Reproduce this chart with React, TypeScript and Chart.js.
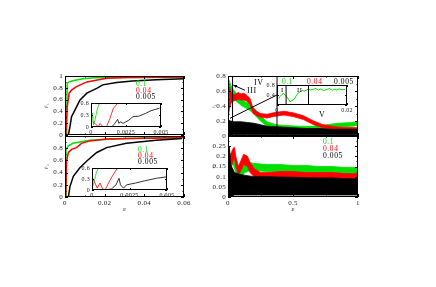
import React, { useEffect, useRef } from 'react';
import { Chart, registerables } from 'chart.js';

Chart.register(...registerables);

const W = 436;
const H = 287;
const GREEN = '#00e000';
const RED = '#ff0000';
const BLACK = '#000000';
const SERIF = '"Liberation Serif", "DejaVu Serif", serif';

// ---------- top-left panel ----------
const tlGreenX = [0.0008, 0.0011, 0.002, 0.004, 0.009, 0.015, 0.03, 0.06];
const tlGreenY = [0, 0.88, 0.9, 0.92, 0.955, 0.97, 0.975, 0.98];
const tlRedX = [0.0004, 0.001, 0.0021, 0.0033, 0.0058, 0.011, 0.021, 0.031, 0.06];
const tlRedY = [0, 0.45, 0.71, 0.76, 0.82, 0.9, 0.96, 0.975, 0.985];
const tlBlackX = [0.0017, 0.0025, 0.0033, 0.005, 0.0075, 0.011, 0.016, 0.019, 0.026, 0.034, 0.046, 0.06];
const tlBlackY = [0, 0.14, 0.31, 0.42, 0.59, 0.71, 0.79, 0.85, 0.89, 0.915, 0.935, 0.955];

// top-left inset
const tlInGreenX = [0.00005, 0.0001, 0.00018, 0.0003, 0.00045, 0.0006];
const tlInGreenY = [0.15, 0.35, 0.05, 0.2, 0.45, 0.6];
const tlInRedX = [0.00012, 0.00029, 0.00052, 0.00064, 0.00088, 0.0011, 0.00136, 0.0016, 0.0018, 0.0019];
const tlInRedY = [0.13, 0.09, 0.0, 0.09, 0.0, 0.0, 0.22, 0.47, 0.55, 0.6];
const tlInBlackX = [0.00107, 0.00148, 0.0017, 0.0019, 0.002, 0.0021, 0.0023, 0.0027, 0.003, 0.0034, 0.0039, 0.0043, 0.0049];
const tlInBlackY = [0, 0, 0.09, 0.19, 0.09, 0.13, 0.09, 0.17, 0.26, 0.27, 0.34, 0.41, 0.47];

// ---------- bottom-left panel ----------
const blGreenX = [0.0003, 0.0005, 0.0017, 0.004, 0.0125, 0.03, 0.06];
const blGreenY = [0, 0.78, 0.84, 0.88, 0.93, 0.96, 0.975];
const blRedX = [0.00035, 0.0008, 0.0017, 0.0033, 0.0058, 0.0083, 0.0125, 0.021, 0.04, 0.06];
const blRedY = [0, 0.59, 0.73, 0.78, 0.81, 0.88, 0.92, 0.95, 0.965, 0.97];
const blBlackX = [0.0017, 0.0025, 0.0042, 0.0075, 0.011, 0.016, 0.021, 0.031, 0.046, 0.059];
const blBlackY = [0, 0.17, 0.34, 0.48, 0.59, 0.73, 0.81, 0.88, 0.93, 0.96];

// bottom-left inset
const blInGreenX = [0.00005, 0.0002, 0.0003, 0.00042];
const blInGreenY = [0.09, 0.32, 0.5, 0.6];
const blInRedX = [0.00005, 0.0002, 0.00035, 0.00053, 0.00071, 0.00087, 0.0011, 0.0014, 0.0017];
const blInRedY = [0.32, 0.19, 0.05, 0.19, 0.03, 0, 0.19, 0.41, 0.6];
const blInBlackX = [0.00087, 0.0013, 0.0016, 0.0018, 0.0019, 0.0021, 0.0023, 0.0029, 0.0035, 0.0043, 0.005];
const blInBlackY = [0, 0.03, 0.14, 0.32, 0.14, 0.05, 0.14, 0.19, 0.25, 0.32, 0.36];

// ---------- top-right panel (noisy bands: upper / lower envelopes) ----------
const trGreenX = [0, 0.01, 0.02, 0.04, 0.06, 0.08, 0.1, 0.12, 0.14, 0.17, 0.2, 0.25, 0.3, 0.37, 0.45, 0.55, 0.65, 0.75, 0.85, 0.95, 1.0];
const trGreenHi = [0.7, 0.74, 0.68, 0.62, 0.58, 0.54, 0.5, 0.47, 0.45, 0.42, 0.37, 0.27, 0.19, 0.15, 0.14, 0.13, 0.13, 0.15, 0.17, 0.18, 0.19];
const trGreenLo = [0.5, 0.58, 0.55, 0.5, 0.47, 0.44, 0.41, 0.39, 0.37, 0.34, 0.29, 0.2, 0.13, 0.1, 0.09, 0.08, 0.08, 0.1, 0.12, 0.13, 0.14];
const trRedX = [0, 0.01, 0.02, 0.03, 0.05, 0.08, 0.1, 0.12, 0.14, 0.17, 0.19, 0.22, 0.25, 0.3, 0.35, 0.43, 0.5, 0.58, 0.66, 0.73, 0.84, 1.0];
const trRedHi = [0.4, 0.66, 0.6, 0.56, 0.55, 0.58, 0.56, 0.57, 0.55, 0.5, 0.38, 0.33, 0.3, 0.29, 0.31, 0.33, 0.31, 0.27, 0.2, 0.15, 0.12, 0.11];
const trRedLo = [0.25, 0.35, 0.42, 0.46, 0.47, 0.49, 0.48, 0.48, 0.47, 0.42, 0.31, 0.27, 0.25, 0.24, 0.26, 0.28, 0.26, 0.22, 0.15, 0.11, 0.08, 0.08];
const trBlackX = [0, 0.02, 0.05, 0.1, 0.15, 0.2, 0.25, 0.3, 0.4, 0.5, 0.6, 0.7, 0.8, 0.9, 1.0];
const trBlackHi = [0.22, 0.2, 0.19, 0.19, 0.18, 0.17, 0.15, 0.13, 0.12, 0.11, 0.1, 0.1, 0.09, 0.09, 0.09];
const trBlackLo = [0.0, 0.01, 0.02, 0.02, 0.02, 0.02, 0.02, 0.02, 0.02, 0.02, 0.02, 0.02, 0.02, 0.02, 0.02];
// region markers in top-right panel
const trVLines = [0.035, 0.377];
const trDiagX = [0.015, 0.38];
const trDiagY = [0.236, 0.55];
const trArrowFrom = [0.13, 0.61];
const trArrowTo = [0.04, 0.68];

// top-right inset
const trInGreenX = [0.0005, 0.0009, 0.0014, 0.0018, 0.0023, 0.0028, 0.0033, 0.0037, 0.0042, 0.0047, 0.0052, 0.0056, 0.006, 0.0066, 0.0072, 0.0078, 0.0085, 0.009, 0.0095, 0.0104, 0.011, 0.0118, 0.0125, 0.0132, 0.0142, 0.015, 0.0158, 0.0165, 0.017, 0.0178, 0.0186, 0.0194];
const trInGreenY = [0.25, 0.35, 0.42, 0.47, 0.4, 0.33, 0.22, 0.13, 0.18, 0.2, 0.3, 0.4, 0.47, 0.53, 0.58, 0.56, 0.6, 0.64, 0.6, 0.63, 0.66, 0.6, 0.64, 0.58, 0.62, 0.66, 0.59, 0.63, 0.6, 0.64, 0.61, 0.62];
const trInVLines = [0.0026, 0.009];

// ---------- bottom-right panel ----------
const brGreenX = [0, 0.01, 0.02, 0.04, 0.06, 0.08, 0.1, 0.13, 0.17, 0.2, 0.3, 0.4, 0.5, 0.6, 0.7, 0.8, 0.9, 1.0];
const brGreenHi = [0.25, 0.22, 0.21, 0.22, 0.18, 0.14, 0.15, 0.16, 0.17, 0.165, 0.16, 0.16, 0.155, 0.155, 0.15, 0.15, 0.145, 0.145];
const brGreenLo = [0.14, 0.15, 0.15, 0.16, 0.12, 0.09, 0.1, 0.12, 0.13, 0.13, 0.125, 0.125, 0.12, 0.12, 0.12, 0.115, 0.115, 0.115];
const brRedX = [0, 0.02, 0.04, 0.05, 0.06, 0.08, 0.1, 0.12, 0.15, 0.17, 0.2, 0.25, 0.3, 0.4, 0.5, 0.6, 0.7, 0.8, 0.9, 1.0];
const brRedHi = [0.18, 0.21, 0.24, 0.245, 0.2, 0.15, 0.18, 0.21, 0.2, 0.17, 0.14, 0.12, 0.12, 0.125, 0.125, 0.12, 0.12, 0.12, 0.115, 0.115];
const brRedLo = [0.1, 0.14, 0.18, 0.19, 0.15, 0.11, 0.13, 0.16, 0.15, 0.12, 0.1, 0.08, 0.08, 0.085, 0.09, 0.085, 0.085, 0.085, 0.08, 0.08];
const brBlackX = [0, 0.01, 0.02, 0.05, 0.1, 0.2, 0.3, 0.4, 0.5, 0.6, 0.7, 0.8, 0.9, 1.0];
const brBlackHi = [0.15, 0.25, 0.16, 0.12, 0.11, 0.1, 0.1, 0.098, 0.097, 0.095, 0.094, 0.094, 0.09, 0.09];
const brBlackLo = [0.0, 0.0, 0.0, 0.01, 0.01, 0.01, 0.01, 0.01, 0.01, 0.01, 0.01, 0.01, 0.01, 0.01];

// legends
const seriesLabels = ['0.1', '0.04', '0.005'];
const seriesColors = [GREEN, RED, BLACK];

const zip = (xs: number[], ys: number[]) => xs.map((x, i) => ({ x, y: ys[i] }));
const fmt = (v: number) => String(Math.round(v * 1e6) / 1e6);

const line = (xs: number[], ys: number[], color: string, width: number, order: number) => ({
  data: zip(xs, ys),
  borderColor: color,
  borderWidth: width,
  pointRadius: 0,
  fill: false,
  order,
});

const band = (xs: number[], hi: number[], lo: number[], color: string, order: number) => [
  { data: zip(xs, hi), borderColor: color, backgroundColor: color, borderWidth: 0.8, pointRadius: 0, fill: '+1', order },
  { data: zip(xs, lo), borderColor: color, backgroundColor: color, borderWidth: 0.8, pointRadius: 0, fill: false, order: order + 0.5 },
];

const vline = (x: number, y0: number, y1: number, order: number) => ({
  data: [{ x, y: y0 }, { x, y: y1 }],
  borderColor: BLACK,
  borderWidth: 1,
  pointRadius: 0,
  fill: false,
  order,
});

const framePlugin = {
  id: 'frame',
  beforeDraw(chart: any, _a: any, o: any) {
    chart.ctx.letterSpacing = o.ls || '0px';
  },
  beforeDatasetsDraw(chart: any, _a: any, o: any) {
    if (!o.white) return;
    const a = chart.chartArea;
    const ctx = chart.ctx;
    ctx.save();
    ctx.fillStyle = '#ffffff';
    ctx.fillRect(a.left, a.top, a.right - a.left, a.bottom - a.top);
    ctx.restore();
  },
  afterDatasetsDraw(chart: any, _a: any, o: any) {
    const a = chart.chartArea;
    const ctx = chart.ctx;
    const xs = chart.scales.x;
    const ys = chart.scales.y;
    const L = o.tick || 3;
    ctx.save();
    ctx.strokeStyle = '#000';
    ctx.lineWidth = 1;
    ctx.beginPath();
    const drawX = (v: number, len: number) => {
      const p = Math.round(xs.getPixelForValue(v)) + 0.5;
      ctx.moveTo(p, a.bottom);
      ctx.lineTo(p, a.bottom - len);
      ctx.moveTo(p, a.top);
      ctx.lineTo(p, a.top + len);
    };
    const drawY = (v: number, len: number) => {
      const p = Math.round(ys.getPixelForValue(v)) + 0.5;
      ctx.moveTo(a.left, p);
      ctx.lineTo(a.left + len, p);
      ctx.moveTo(a.right, p);
      ctx.lineTo(a.right - len, p);
    };
    const xt = xs.ticks.map((t: any) => t.value);
    const yt = ys.ticks.map((t: any) => t.value);
    xt.forEach((v: number, i: number) => {
      drawX(v, L);
      if (i < xt.length - 1) drawX((v + xt[i + 1]) / 2, L / 2);
    });
    yt.forEach((v: number, i: number) => {
      drawY(v, L);
      if (i < yt.length - 1) drawY((v + yt[i + 1]) / 2, L / 2);
    });
    ctx.stroke();
    ctx.strokeRect(Math.round(a.left) + 0.5, Math.round(a.top) + 0.5, Math.round(a.right - a.left) - 1, Math.round(a.bottom - a.top) - 1);
    if (o.arrow) {
      const x0 = xs.getPixelForValue(o.arrow.from[0]);
      const y0 = ys.getPixelForValue(o.arrow.from[1]);
      const x1 = xs.getPixelForValue(o.arrow.to[0]);
      const y1 = ys.getPixelForValue(o.arrow.to[1]);
      const ang = Math.atan2(y1 - y0, x1 - x0);
      ctx.beginPath();
      ctx.moveTo(x0, y0);
      ctx.lineTo(x1, y1);
      ctx.stroke();
      ctx.beginPath();
      ctx.fillStyle = '#000';
      ctx.moveTo(x1, y1);
      ctx.lineTo(x1 - 4 * Math.cos(ang - 0.4), y1 - 4 * Math.sin(ang - 0.4));
      ctx.lineTo(x1 - 4 * Math.cos(ang + 0.4), y1 - 4 * Math.sin(ang + 0.4));
      ctx.closePath();
      ctx.fill();
    }
    ctx.restore();
  },
};

type PanelSpec = {
  L: number; R: number; T: number; B: number;
  yW: number; xH: number;
  xMin: number; xMax: number; xStep: number;
  yMin: number; yMax: number; yStep: number;
  xLabels: boolean; yHide?: number[];
  fs: number; xTitle?: string; yTitle?: string;
  white?: boolean; tick?: number; arrow?: any;
  datasets: any[];
};

function makeConfig(p: PanelSpec) {
  const zeroPad = (s: any) => {
    s.paddingLeft = 0; s.paddingRight = 0; s.paddingTop = 0; s.paddingBottom = 0;
  };
  return {
    type: 'line',
    data: { datasets: p.datasets },
    options: {
      animation: false,
      responsive: false,
      events: [],
      layout: { padding: { left: p.L - p.yW, right: W - p.R, top: p.T, bottom: H - p.B - p.xH } },
      plugins: {
        legend: { display: false },
        tooltip: { enabled: false },
        frame: { white: !!p.white, tick: p.tick || 3, arrow: p.arrow, ls: '0.3px' },
      },
      scales: {
        x: {
          type: 'linear',
          min: p.xMin, max: p.xMax,
          ticks: {
            stepSize: p.xStep, display: p.xLabels, autoSkip: false, maxRotation: 0, minRotation: 0,
            padding: 2, color: '#222', font: { family: SERIF, size: p.fs }, callback: (v: number) => fmt(v),
          },
          grid: { display: false, drawTicks: false },
          border: { display: false },
          title: p.xTitle
            ? { display: true, text: p.xTitle, color: '#222', font: { family: SERIF, size: 7 }, padding: 0 }
            : { display: false },
          afterFit: (s: any) => { s.height = p.xH; zeroPad(s); },
        },
        y: {
          type: 'linear',
          min: p.yMin, max: p.yMax,
          ticks: {
            stepSize: p.yStep, autoSkip: false, padding: 2, color: '#222',
            font: { family: SERIF, size: p.fs },
            callback: (v: number) => ((p.yHide || []).some((h) => Math.abs(h - v) < 1e-9) ? '' : fmt(v)),
          },
          grid: { display: false, drawTicks: false },
          border: { display: false },
          title: p.yTitle
            ? { display: true, text: p.yTitle, color: '#444', font: { family: SERIF, size: 5 }, padding: { top: 3, bottom: 0 } }
            : { display: false },
          afterFit: (s: any) => { s.width = p.yW; zeroPad(s); },
        },
      },
    },
    plugins: [framePlugin],
  };
}

const panels: PanelSpec[] = [
  // top-left
  {
    L: 65, R: 184, T: 76, B: 135, yW: 24, xH: 0,
    xMin: 0, xMax: 0.06, xStep: 0.02, yMin: 0, yMax: 1, yStep: 0.2,
    xLabels: false, fs: 7, yTitle: 'F\u0304\u2081',
    datasets: [
      line(tlBlackX, tlBlackY, BLACK, 1.5, 1),
      line(tlRedX, tlRedY, RED, 1.5, 2),
      line(tlGreenX, tlGreenY, GREEN, 1.5, 3),
    ],
  },
  // bottom-left
  {
    L: 65, R: 184, T: 136, B: 197, yW: 24, xH: 16,
    xMin: 0, xMax: 0.06, xStep: 0.02, yMin: 0, yMax: 1, yStep: 0.2,
    xLabels: true, yHide: [1], fs: 7, xTitle: '\u03b5', yTitle: 'F\u0304\u2082',
    datasets: [
      line(blBlackX, blBlackY, BLACK, 1.5, 1),
      line(blRedX, blRedY, RED, 1.5, 2),
      line(blGreenX, blGreenY, GREEN, 1.5, 3),
    ],
  },
  // top-right
  {
    L: 228, R: 358, T: 76, B: 136, yW: 20, xH: 0,
    xMin: 0, xMax: 1, xStep: 0.5, yMin: 0, yMax: 0.8, yStep: 0.2,
    xLabels: false, fs: 7, yTitle: 'r\u0304\u2081',
    arrow: { from: trArrowFrom, to: trArrowTo },
    datasets: [
      vline(trVLines[0], 0, 0.8, 0),
      vline(trVLines[1], 0, 0.8, 0),
      line(trDiagX, trDiagY, BLACK, 1, 0),
      ...band(trBlackX, trBlackHi, trBlackLo, BLACK, 1),
      ...band(trRedX, trRedHi, trRedLo, RED, 2),
      ...band(trGreenX, trGreenHi, trGreenLo, GREEN, 3),
    ],
  },
  // bottom-right
  {
    L: 228, R: 358, T: 136, B: 197, yW: 20, xH: 16,
    xMin: 0, xMax: 1, xStep: 0.5, yMin: 0, yMax: 0.3, yStep: 0.05,
    xLabels: true, yHide: [0.3], fs: 7, xTitle: '\u03b5', yTitle: 'r\u0304\u2082',
    datasets: [
      ...band(brBlackX, brBlackHi, brBlackLo, BLACK, 1),
      ...band(brRedX, brRedHi, brRedLo, RED, 2),
      ...band(brGreenX, brGreenHi, brGreenLo, GREEN, 3),
    ],
  },
  // top-left inset
  {
    L: 91, R: 161, T: 103, B: 127, yW: 14, xH: 9,
    xMin: 0, xMax: 0.005, xStep: 0.0025, yMin: 0, yMax: 0.6, yStep: 0.3,
    xLabels: true, fs: 6, white: true, tick: 2,
    datasets: [
      line(tlInBlackX, tlInBlackY, BLACK, 0.8, 1),
      line(tlInRedX, tlInRedY, RED, 0.8, 2),
      line(tlInGreenX, tlInGreenY, GREEN, 0.8, 3),
    ],
  },
  // bottom-left inset
  {
    L: 92, R: 167, T: 168, B: 190, yW: 14, xH: 9,
    xMin: 0, xMax: 0.005, xStep: 0.0025, yMin: 0, yMax: 0.6, yStep: 0.3,
    xLabels: true, fs: 6, white: true, tick: 2,
    datasets: [
      line(blInBlackX, blInBlackY, BLACK, 0.8, 1),
      line(blInRedX, blInRedY, RED, 0.8, 2),
      line(blInGreenX, blInGreenY, GREEN, 0.8, 3),
    ],
  },
  // top-right inset
  {
    L: 277, R: 347, T: 85, B: 105, yW: 14, xH: 9,
    xMin: 0, xMax: 0.02, xStep: 0.02, yMin: 0, yMax: 0.8, yStep: 0.4,
    xLabels: true, yHide: [0], fs: 6, white: true, tick: 2,
    datasets: [
      vline(trInVLines[0], 0, 0.8, 0),
      vline(trInVLines[1], 0, 0.8, 0),
      line(trInGreenX, trInGreenY, GREEN, 1, 1),
    ],
  },
];

function ChartCanvas({ spec }: { spec: PanelSpec }) {
  const ref = useRef<HTMLCanvasElement | null>(null);
  useEffect(() => {
    const chart = new Chart(ref.current as HTMLCanvasElement, makeConfig(spec) as any);
    return () => chart.destroy();
  }, []);
  return (
    <canvas
      ref={ref}
      width={W}
      height={H}
      style={{ position: 'absolute', left: 0, top: 0, width: W, height: H }}
    />
  );
}

type TextSpec = { text: string; x: number; y: number; color: string; size: number };

const legendAt = (x: number, y0: number, dy: number): TextSpec[] =>
  seriesLabels.map((t, i) => ({ text: t, x, y: y0 + i * dy, color: seriesColors[i], size: 7.5 }));

const texts: TextSpec[] = [
  ...legendAt(136, 84, 6.5),
  ...legendAt(138, 150, 6),
  ...legendAt(323, 141.5, 7),
  { text: seriesLabels[0], x: 282, y: 81.5, color: GREEN, size: 7.5 },
  { text: seriesLabels[1], x: 307, y: 81.5, color: RED, size: 7.5 },
  { text: seriesLabels[2], x: 334, y: 81.5, color: BLACK, size: 7.5 },
  { text: 'IV', x: 254, y: 83, color: BLACK, size: 8 },
  { text: 'III', x: 247, y: 91, color: BLACK, size: 8 },
  { text: 'V', x: 319, y: 115, color: BLACK, size: 8 },
  { text: 'I', x: 281, y: 90, color: BLACK, size: 6.5 },
  { text: 'II', x: 297, y: 90, color: BLACK, size: 6.5 },
];

export default function App() {
  return (
    <div style={{ position: 'fixed', left: 0, top: 0, width: W, height: H, background: '#fff', overflow: 'hidden' }}>
      {panels.map((p, i) => (
        <ChartCanvas key={i} spec={p} />
      ))}
      {texts.map((t, i) => (
        <div
          key={'t' + i}
          style={{
            position: 'absolute',
            left: t.x,
            top: t.y,
            transform: 'translateY(-50%)',
            color: t.color,
            fontFamily: SERIF,
            fontSize: t.size,
            lineHeight: 1,
            letterSpacing: '0.6px',
            whiteSpace: 'nowrap',
          }}
        >
          {t.text}
        </div>
      ))}
    </div>
  );
}
